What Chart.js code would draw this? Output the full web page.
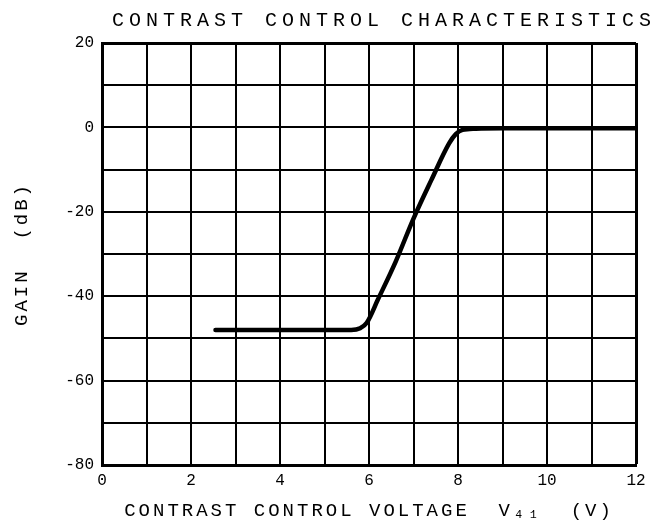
<!DOCTYPE html>
<html><head><meta charset="utf-8">
<script src="https://cdn.jsdelivr.net/npm/chart.js@4"></script>
<style>html,body{margin:0;padding:0;background:#fff;} canvas{display:block;}</style>
</head><body>
<canvas id="c" width="666" height="527"></canvas>
<script>
// ---- data ----
const chartTitle = 'CONTRAST CONTROL CHARACTERISTICS';
const xAxisTitle = 'CONTRAST CONTROL VOLTAGE  V\u2084\u2081  (V)';
const yAxisTitle = 'GAIN  (dB)';
const voltage = [2.55, 3, 4, 5, 5.6, 5.8, 5.95, 6.2, 6.6, 7.0, 7.4, 7.8, 7.95, 8.1, 8.4, 9, 10, 11, 12];
const gainDb  = [-48, -48, -48, -48, -48, -47.6, -46.3, -40.8, -31.8, -21.6, -12.5, -3.8, -1.6, -0.6, -0.3, -0.2, -0.2, -0.2, -0.2];
const xTickLabels = ['0', '2', '4', '6', '8', '10', '12'];
const yTickLabels = ['-80', '-60', '-40', '-20', '0', '20'];

Chart.defaults.font.family = "'Liberation Mono', 'DejaVu Sans Mono', monospace";
Chart.defaults.color = '#000';

// letter spacing for the typewriter-style titles
const spacingPlugin = {
  id: 'spacing',
  beforeDraw(chart) {
    const ctx = chart.ctx;
    const wrap = (obj, name, sp) => {
      if (!obj || obj['__w_' + name]) return;
      const orig = obj[name];
      obj[name] = function (...a) {
        ctx.save();
        try { ctx.letterSpacing = sp; } catch (e) {}
        const r = orig.apply(this, a);
        ctx.restore();
        return r;
      };
      obj['__w_' + name] = true;
    };
    wrap(chart.titleBlock, 'draw', '5px');
    wrap(chart.scales.x, 'drawTitle', '3px');
    wrap(chart.scales.y, 'drawTitle', '3px');
  }
};

const pts = voltage.map((v, i) => ({x: v, y: gainDb[i]}));

new Chart(document.getElementById('c'), {
  type: 'line',
  data: {
    datasets: [{
      data: pts,
      borderColor: '#000',
      borderWidth: 4.5,
      pointRadius: 0,
      fill: false,
      cubicInterpolationMode: 'monotone',
      borderCapStyle: 'round',
      borderJoinStyle: 'round'
    }]
  },
  plugins: [spacingPlugin],
  options: {
    responsive: false,
    animation: false,
    events: [],
    layout: {padding: {left: 0, right: 10, top: 0, bottom: 0}},
    plugins: {
      legend: {display: false},
      tooltip: {enabled: false},
      title: {
        display: true, text: chartTitle, align: 'end', color: '#000',
        font: {size: 20, weight: 'normal'}, padding: {top: 9, bottom: 10}
      }
    },
    scales: {
      x: {
        type: 'linear', min: 0, max: 12,
        border: {display: true, color: '#000', width: 3},
        grid: {color: '#000', lineWidth: c => (c.tick && c.tick.value === 12) ? 3 : 2, drawTicks: false},
        ticks: {
          stepSize: 1, autoSkip: false, maxRotation: 0, color: '#000', font: {size: 16}, padding: 6,
          callback: v => { const i = xTickLabels.indexOf(String(v)); return i >= 0 ? xTickLabels[i] : ''; }
        },
        title: {display: true, text: xAxisTitle, color: '#000', font: {size: 19}, padding: {top: 3, bottom: 5}},
        afterFit(s) { s.paddingRight = 30; }
      },
      y: {
        type: 'linear', min: -80, max: 20,
        border: {display: true, color: '#000', width: 3},
        grid: {color: '#000', lineWidth: c => (c.tick && c.tick.value === 20) ? 3 : 2, drawTicks: false},
        ticks: {
          stepSize: 10, autoSkip: false, color: '#000', font: {size: 16}, padding: 8,
          callback: v => { const i = yTickLabels.indexOf(String(v)); return i >= 0 ? yTickLabels[i] : ''; }
        },
        title: {display: true, text: yAxisTitle, color: '#000', font: {size: 19}, padding: {top: 10.6, bottom: 23.8}}
      }
    }
  }
});
</script>
</body></html>
